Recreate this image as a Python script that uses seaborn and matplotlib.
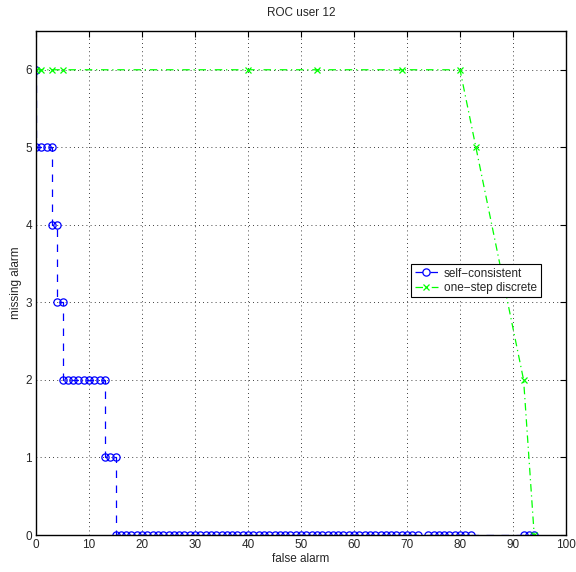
import numpy as np
import pandas as pd
import seaborn as sns
import matplotlib
matplotlib.use("Agg")
import matplotlib.pyplot as plt

# self-consistent series
sc_x = ([0] + [0, 1, 2, 3] + [3, 4] + [4, 5] + list(range(5, 14)) + [13, 14, 15]
        + list(range(15, 73)) + list(range(74, 83)) + [92, 93, 94])
sc_y = ([6] + [5] * 4 + [4] * 2 + [3] * 2 + [2] * 9 + [1] * 3
        + [0] * 58 + [0] * 9 + [0] * 3)

# one-step discrete series
os_x = [0, 1, 3, 5, 40, 53, 69, 80, 83, 92, 94]
os_y = [6, 6, 6, 6, 6, 6, 6, 6, 5, 2, 0]

xticks = list(range(0, 101, 10))
yticks = list(range(0, 7))

sns.set_style("white")
plt.rcParams['font.family'] = ['Liberation Sans', 'DejaVu Sans']

fig = plt.figure(figsize=(5.76, 5.72), dpi=100)
ax = fig.add_axes([36/576, 1 - 535/572, (566 - 36)/576, (535 - 31)/572])

df1 = pd.DataFrame({"x": sc_x, "y": sc_y})
df2 = pd.DataFrame({"x": os_x, "y": os_y})

sns.lineplot(data=df1, x="x", y="y", ax=ax, estimator=None, sort=False,
             color="blue", linestyle=(0, (6, 6)), linewidth=0.9, marker="o",
             markersize=5.2, markerfacecolor="none", markeredgecolor="blue",
             markeredgewidth=0.9, label="self\u2212consistent")
sns.lineplot(data=df2, x="x", y="y", ax=ax, estimator=None, sort=False,
             color="#00ff00", linestyle=(0, (6, 3, 1, 3)), linewidth=0.9, marker="x",
             markersize=4.5, markeredgecolor="#00ff00", markeredgewidth=0.9,
             label="one\u2212step discrete")

ax.set_xlim(0, 100)
ax.set_ylim(0, 6.5)
ax.set_xticks(xticks)
ax.set_yticks(yticks)
ax.tick_params(direction="in", top=True, right=True, length=4, width=0.8,
               labelsize=8.5, color="black", pad=3)
ax.grid(True, color="black", linestyle=(0, (1, 4)), linewidth=0.6)
for s in ax.spines.values():
    s.set_color("black")
    s.set_linewidth(1.0)
ax.set_xlabel("false alarm", fontsize=8.5, labelpad=1)
ax.set_ylabel("missing alarm", fontsize=8.5, labelpad=2)
ax.set_title("ROC user 12", fontsize=8.5, pad=11)

leg = ax.legend(loc="upper left", bbox_to_anchor=((411 - 36)/530, 1 - (264 - 31)/504),
                fontsize=8.5, frameon=True, fancybox=False, edgecolor="black",
                framealpha=1, borderpad=0.3, handlelength=2.0, labelspacing=0.2,
                handletextpad=0.5, borderaxespad=0)
leg.get_frame().set_linewidth(0.8)

fig.savefig("out.png", dpi=100)
